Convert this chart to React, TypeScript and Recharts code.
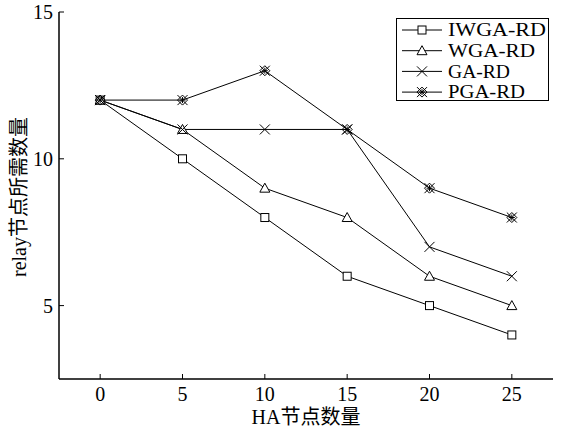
import React from 'react'
import { ComposedChart, Line, XAxis, YAxis, Legend } from 'recharts'

const HA_NODES = [0, 5, 10, 15, 20, 25]
const IWGA_RD = [12, 10, 8, 6, 5, 4]
const WGA_RD = [12, 11, 9, 8, 6, 5]
const GA_RD = [12, 11, 11, 11, 7, 6]
const PGA_RD = [12, 12, 13, 11, 9, 8]
const X_TICKS = [0, 5, 10, 15, 20, 25]
const Y_TICKS = [5, 10, 15]
// the mirrored top/right frame ticks in the figure don't line up with the data ticks
const TOP_TICKS = [91, 183, 274, 366, 458]
const RIGHT_TICKS = [121, 245]

const data = HA_NODES.map((x, i) => ({
  x,
  iwga: IWGA_RD[i],
  wga: WGA_RD[i],
  ga: GA_RD[i],
  pga: PGA_RD[i],
}))

const SERIF = "'Liberation Serif', 'Times New Roman', 'Noto Sans CJK SC', serif"
const TICK = { fontSize: 20, fill: '#000', fontFamily: SERIF }
const FRAME = '#6e6e6e'

type Mark = 'square' | 'triangle' | 'cross' | 'pga'

function marker(kind: Mark, cx: number, cy: number, key?: string | number) {
  const s = { stroke: '#000', strokeWidth: 1, fill: 'none' }
  if (kind === 'square') return <rect key={key} x={cx - 4} y={cy - 4} width={8} height={8} {...s} fill="#fff" />
  if (kind === 'triangle') return <polygon key={key} points={`${cx},${cy - 5} ${cx - 5},${cy + 4} ${cx + 5},${cy + 4}`} {...s} fill="#fff" />
  if (kind === 'cross') return <path key={key} d={`M${cx - 5},${cy - 5}L${cx + 5},${cy + 5}M${cx - 5},${cy + 5}L${cx + 5},${cy - 5}`} {...s} />
  return (
    <g key={key}>
      <path d={`M${cx - 5},${cy - 5}L${cx + 5},${cy + 5}M${cx - 5},${cy + 5}L${cx + 5},${cy - 5}`} {...s} />
      <polygon points={`${cx},${cy - 5} ${cx + 5},${cy} ${cx},${cy + 5} ${cx - 5},${cy}`} {...s} />
      <path d={`M${cx - 3},${cy}L${cx + 3},${cy}M${cx},${cy - 3}L${cx},${cy + 3}`} {...s} />
    </g>
  )
}

const dotFor = (kind: Mark) => (props: any) => {
  const { cx, cy, index } = props
  return marker(kind, cx, cy, `${kind}${index}`)
}

const SERIES: { key: string; name: string; mark: Mark; w: number }[] = [
  { key: 'iwga', name: 'IWGA-RD', mark: 'square', w: 98 },
  { key: 'wga', name: 'WGA-RD', mark: 'triangle', w: 87 },
  { key: 'ga', name: 'GA-RD', mark: 'cross', w: 62 },
  { key: 'pga', name: 'PGA-RD', mark: 'pga', w: 77 },
]

function LegendBox() {
  return (
    <svg width={153} height={86} style={{ display: 'block', overflow: 'visible' }}>
      <rect x={0.5} y={0.5} width={152} height={82} fill="#fff" stroke="#000" strokeWidth={1} />
      {SERIES.map((s, i) => {
        const y = 12 + i * 20.7
        return (
          <g key={s.key}>
            <line x1={6} x2={46} y1={y} y2={y} stroke="#000" strokeWidth={1} />
            {marker(s.mark, 26, y)}
            <text x={52} y={y} dy="0.35em" fontSize={18} textLength={s.w} lengthAdjust="spacingAndGlyphs" fontFamily={SERIF} fill="#000">{s.name}</text>
          </g>
        )
      })}
    </svg>
  )
}

export default function App() {
  return (
    <div style={{ position: 'absolute', left: 0, top: 0, background: '#fff' }}>
      <ComposedChart width={563} height={431} data={data} margin={{ top: 12, right: 10, left: 0, bottom: 0 }}>
        <XAxis
          xAxisId="main"
          dataKey="x"
          type="number"
          domain={[-2.5, 27.5]}
          ticks={X_TICKS}
          height={52}
          tick={TICK}
          tickSize={-5}
          tickMargin={13}
          axisLine={{ stroke: '#000', strokeWidth: 1.5 }}
          tickLine={{ stroke: '#000' }}
          label={{
            content: () => (
              <text x={306} y={417} dy="0.35em" textAnchor="middle" fontSize={20} fontFamily={SERIF} fill="#000">HA节点数量</text>
            ),
          }}
        />
        <XAxis
          xAxisId="top"
          orientation="top"
          type="number"
          domain={[0, 494]}
          ticks={TOP_TICKS}
          allowDataOverflow
          height={0}
          tick={false}
          tickSize={-5}
          axisLine={{ stroke: FRAME, strokeWidth: 1.5 }}
          tickLine={{ stroke: '#333' }}
        />
        <YAxis
          yAxisId="main"
          type="number"
          domain={[2.5, 15]}
          ticks={Y_TICKS}
          width={59}
          tick={TICK}
          tickSize={-5}
          tickMargin={11}
          axisLine={{ stroke: '#000', strokeWidth: 1.5 }}
          tickLine={{ stroke: '#000' }}
          label={{
            content: () => (
              <text x={19} y={197} dy="0.35em" textAnchor="middle" transform="rotate(-90, 19, 197)" fontSize={20} fontFamily={SERIF} fill="#000">relay节点所需数量</text>
            ),
          }}
        />
        <YAxis
          yAxisId="right"
          orientation="right"
          type="number"
          domain={[0, 367]}
          reversed
          ticks={RIGHT_TICKS}
          allowDataOverflow
          width={0}
          tick={false}
          tickSize={-6}
          axisLine={{ stroke: FRAME, strokeWidth: 1.5 }}
          tickLine={{ stroke: '#333' }}
        />
        <Legend
          layout="vertical"
          align="center"
          verticalAlign="middle"
          wrapperStyle={{ left: 396, top: 18, width: 153, height: 86 }}
          content={() => <LegendBox />}
        />
        {SERIES.map((s) => (
          <Line
            key={s.key}
            xAxisId="main"
            yAxisId="main"
            type="linear"
            dataKey={s.key}
            name={s.name}
            stroke="#000"
            strokeWidth={1}
            dot={dotFor(s.mark)}
            activeDot={false}
            isAnimationActive={false}
          />
        ))}
      </ComposedChart>
    </div>
  )
}
